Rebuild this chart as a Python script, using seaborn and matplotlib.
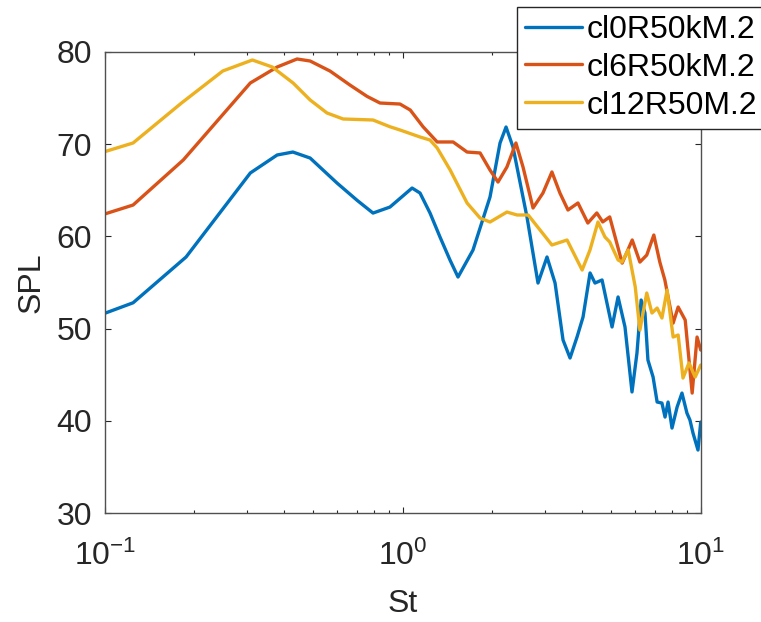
import numpy as np
import pandas as pd
import matplotlib
matplotlib.use("Agg")
import matplotlib.pyplot as plt
from matplotlib.lines import Line2D
from matplotlib.ticker import LogLocator, NullFormatter
import seaborn as sns

# Spectra: Strouhal number vs sound pressure level for three cases
st_cl0 = [0.1, 0.1245, 0.1875, 0.308, 0.379, 0.428, 0.489, 0.602, 0.703, 0.795,
          0.906, 1.075, 1.143, 1.235, 1.334, 1.441, 1.533, 1.721, 1.963, 2.121,
          2.222, 2.344, 2.612, 2.844, 3.049, 3.245, 3.451, 3.643, 3.846, 4.028,
          4.252, 4.418, 4.665, 5.04, 5.28, 5.57, 5.88, 6.11, 6.31, 6.50,
          6.65, 6.92, 7.14, 7.41, 7.59, 7.77, 8.01, 8.33, 8.65, 8.99,
          9.2, 9.42, 9.79, 10.0]
spl_cl0 = [51.66, 52.8, 57.76, 66.86, 68.81, 69.13, 68.48, 65.77, 63.9, 62.52,
           63.17, 65.23, 64.69, 62.52, 59.92, 57.43, 55.59, 58.51, 64.26, 70.11,
           71.84, 69.68, 62.09, 54.94, 57.76, 54.94, 48.77, 46.82, 49.1, 51.26,
           56.03, 54.94, 55.27, 50.18, 53.43, 50.18, 43.14, 47.36, 53.1, 51.69,
           46.6, 44.76, 42.05, 41.94, 40.42, 42.05, 39.23, 41.5, 43.02, 40.85,
           40.1, 38.69, 36.85, 39.88]

st_cl6 = [0.1, 0.1245, 0.1835, 0.308, 0.379, 0.442, 0.489, 0.5705, 0.665, 0.759,
          0.839, 0.979, 1.06, 1.17, 1.305, 1.476, 1.644, 1.818, 1.963, 2.088,
          2.237, 2.398, 2.533, 2.737, 2.955, 3.167, 3.369, 3.585, 3.873, 4.18,
          4.48, 4.69, 4.95, 5.45, 5.89, 6.25, 6.59, 6.96, 7.29, 7.58,
          8.08, 8.40, 8.87, 9.36, 9.72, 10.0]
spl_cl6 = [62.42, 63.39, 68.27, 76.61, 78.34, 79.21, 78.99, 77.9, 76.39, 75.16,
           74.44, 74.33, 73.68, 71.87, 70.22, 70.22, 69.13, 69.03, 67.18, 65.88,
           67.51, 70.11, 67.51, 63.07, 64.69, 66.97, 64.69, 62.85, 63.61, 61.44,
           62.53, 61.56, 62.1, 57.1, 59.6, 57.21, 57.97, 60.14, 57.21, 55.26,
           50.6, 52.34, 50.93, 43.02, 49.09, 47.68]

st_cl12 = [0.1, 0.1245, 0.181, 0.249, 0.313, 0.365, 0.429, 0.489, 0.557, 0.631,
           0.795, 0.906, 0.979, 1.143, 1.235, 1.305, 1.443, 1.644, 1.818, 1.963,
           2.237, 2.42, 2.636, 2.89, 3.167, 3.56, 4.0, 4.25, 4.52, 4.77,
           4.95, 5.28, 5.44, 5.71, 6.03, 6.25, 6.59, 6.86, 7.14, 7.41,
           7.71, 8.08, 8.40, 8.72, 9.13, 9.58, 10.0]
spl_cl12 = [69.17, 70.11, 74.44, 77.91, 79.1, 78.34, 76.6, 74.77, 73.36, 72.71,
            72.6, 71.87, 71.52, 70.76, 70.43, 69.57, 67.18, 63.61, 61.98, 61.55,
            62.63, 62.31, 62.31, 60.68, 59.06, 59.6, 56.35, 58.52, 61.55, 59.93,
            59.39, 57.44, 57.21, 58.52, 54.51, 49.85, 53.86, 51.69, 52.23, 51.15,
            54.18, 49.09, 49.31, 44.65, 46.28, 44.76, 46.06]

case_labels = ["cl0R50kM.2", "cl6R50kM.2", "cl12R50M.2"]
case_colors = ["#0072BD", "#D95319", "#EDB120"]
y_ticks = [30, 40, 50, 60, 70, 80]

df = pd.concat([
    pd.DataFrame({"St": st_cl0, "SPL": spl_cl0, "case": case_labels[0]}),
    pd.DataFrame({"St": st_cl6, "SPL": spl_cl6, "case": case_labels[1]}),
    pd.DataFrame({"St": st_cl12, "SPL": spl_cl12, "case": case_labels[2]}),
], ignore_index=True)

sns.set_style("ticks")
plt.rcParams["font.family"] = ["Liberation Sans", "DejaVu Sans"]
plt.rcParams["mathtext.fontset"] = "custom"
plt.rcParams["mathtext.rm"] = "Liberation Sans"
plt.rcParams["mathtext.it"] = "Liberation Sans"

text_color = "#262626"
fig = plt.figure(figsize=(7.61, 6.22), dpi=100)
ax = fig.add_axes([0.1376, 0.1748, 0.7832, 0.7421])

sns.lineplot(data=df, x="St", y="SPL", hue="case", hue_order=case_labels,
             palette=case_colors, linewidth=2.4, estimator=None, sort=False,
             legend=False, ax=ax)

ax.set_xscale("log")
ax.set_xlim(0.1, 10)
ax.set_ylim(30, 80)
ax.set_yticks(y_ticks)
ax.xaxis.set_major_locator(LogLocator(base=10, numticks=5))
ax.xaxis.set_minor_locator(LogLocator(base=10, subs=np.arange(2, 10), numticks=20))
ax.xaxis.set_minor_formatter(NullFormatter())

ax.tick_params(which="both", direction="in", top=True, right=True,
               color=text_color, labelcolor=text_color, width=0.8)
ax.tick_params(which="major", length=4.3, labelsize=23)
ax.tick_params(which="minor", length=2.2)
ax.tick_params(axis="y", pad=9)
ax.tick_params(axis="x", pad=20)

for sp in ax.spines.values():
    sp.set_color("#505050")
    sp.set_linewidth(1.0)

ax.set_xlabel("St", fontsize=23, color=text_color, labelpad=12)
ax.set_ylabel("SPL", fontsize=23, color=text_color, labelpad=7)

handles = [Line2D([0], [0], color=c, lw=2.4) for c in case_colors]
leg = fig.legend(handles, case_labels, loc="upper left",
                 bbox_to_anchor=(516.7 / 761, 1 - 6.7 / 622),
                 bbox_transform=fig.transFigure, borderaxespad=0,
                 frameon=True, fancybox=False, edgecolor=text_color,
                 framealpha=1, fontsize=23, handlelength=1.78,
                 handletextpad=0.16, labelspacing=0.25, borderpad=0.25)
leg.get_frame().set_linewidth(1.0)
for t in leg.get_texts():
    t.set_color("black")

fig.savefig("out.png", dpi=100)
